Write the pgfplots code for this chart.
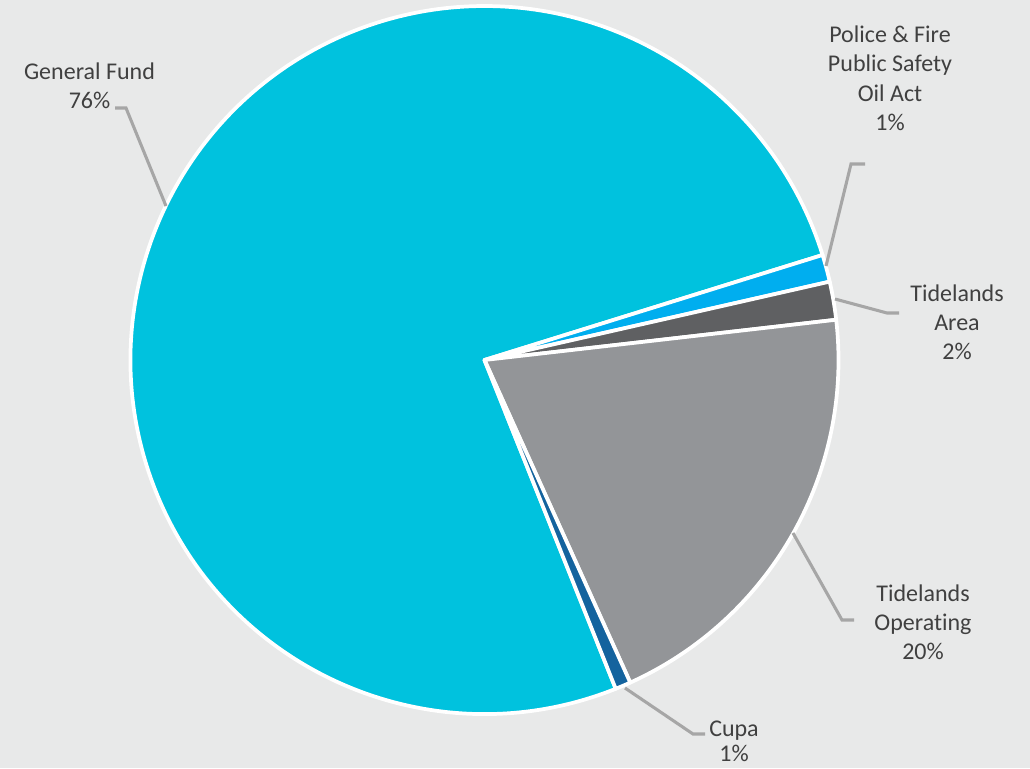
\documentclass[border=0pt]{standalone}
\usepackage{pgfplots}
\pgfplotsset{compat=1.18}
\usepackage{pgfplotstable}
\usepackage{fontspec}
\setmainfont{Carlito}[Ligatures={NoCommon}]
\definecolor{bg}{HTML}{E8E9E9}
\definecolor{cGF}{HTML}{00C2DE}
\definecolor{cPF}{HTML}{00AEEF}
\definecolor{cTA}{HTML}{5F6062}
\definecolor{cTO}{HTML}{939598}
\definecolor{cCU}{HTML}{14639E}
\definecolor{lead}{HTML}{A6A6A6}
\definecolor{txt}{HTML}{404040}

% slice shares in percent, clockwise from the start angle
\pgfplotstableread{
name value
GF 76.25
PF 1.24
TA 1.74
TO 20.06
CU 0.71
}\piedata

\begin{document}
\begin{tikzpicture}
\def\cx{484.5}
\def\cy{360}
\def\R{265.5pt}
\def\aS{-68.24}
\pgfplotstablegetelem{0}{value}\of\piedata \pgfmathsetmacro{\aA}{\aS-3.6*\pgfplotsretval}
\pgfplotstablegetelem{1}{value}\of\piedata \pgfmathsetmacro{\aB}{\aA-3.6*\pgfplotsretval}
\pgfplotstablegetelem{2}{value}\of\piedata \pgfmathsetmacro{\aC}{\aB-3.6*\pgfplotsretval}
\pgfplotstablegetelem{3}{value}\of\piedata \pgfmathsetmacro{\aD}{\aC-3.6*\pgfplotsretval}
\pgfplotstablegetelem{4}{value}\of\piedata \pgfmathsetmacro{\aE}{\aD-3.6*\pgfplotsretval}
\begin{axis}[
  x=0.75pt, y=0.75pt, y dir=reverse,
  xmin=0, xmax=1030, ymin=0, ymax=768,
  hide axis, scale only axis, clip=false,
]
\fill[bg] (axis cs:0,0) rectangle (axis cs:1030,768);
\tikzset{slice/.style={overlay, draw=white, line width=2.8pt, line join=round}}
\filldraw[slice, fill=cGF] (axis cs:\cx,\cy) -- ++(\aS:\R) arc[start angle=\aS, end angle=\aA, radius=\R] -- cycle;
\filldraw[slice, fill=cPF] (axis cs:\cx,\cy) -- ++(\aA:\R) arc[start angle=\aA, end angle=\aB, radius=\R] -- cycle;
\filldraw[slice, fill=cTA] (axis cs:\cx,\cy) -- ++(\aB:\R) arc[start angle=\aB, end angle=\aC, radius=\R] -- cycle;
\filldraw[slice, fill=cTO] (axis cs:\cx,\cy) -- ++(\aC:\R) arc[start angle=\aC, end angle=\aD, radius=\R] -- cycle;
\filldraw[slice, fill=cCU] (axis cs:\cx,\cy) -- ++(\aD:\R) arc[start angle=\aD, end angle=\aE, radius=\R] -- cycle;

\tikzset{leader/.style={overlay, draw=lead, line width=2.3pt}}
\draw[leader] (axis cs:115,108) -- (axis cs:126,108) -- (axis cs:166,206);
\draw[leader] (axis cs:865,164) -- (axis cs:851,164) -- (axis cs:826,266);
\draw[leader] (axis cs:835,299) -- (axis cs:887,313) -- (axis cs:899,313);
\draw[leader] (axis cs:793,533) -- (axis cs:842,620) -- (axis cs:854,620);
\draw[leader] (axis cs:625,688) -- (axis cs:693,734) -- (axis cs:705,734);

\tikzset{lbl/.style={overlay, anchor=base, inner sep=0pt, text=txt, font=\fontsize{18}{22}\selectfont}}
\node[lbl] at (axis cs:89.5,79.5) {General Fund};
\node[lbl] at (axis cs:89.5,108) {76\%};
\node[lbl] at (axis cs:890,42.5) {Police \& Fire};
\node[lbl] at (axis cs:890,71.5) {Public Safety};
\node[lbl] at (axis cs:890,101) {Oil Act};
\node[lbl] at (axis cs:890,130.5) {1\%};
\node[lbl] at (axis cs:957,301.5) {Tidelands};
\node[lbl] at (axis cs:957,330.5) {Area};
\node[lbl] at (axis cs:957,359.5) {2\%};
\node[lbl] at (axis cs:923,601) {Tidelands};
\node[lbl] at (axis cs:923,630) {Operating};
\node[lbl] at (axis cs:923,659.5) {20\%};
\node[lbl] at (axis cs:734,736) {Cupa};
\node[lbl] at (axis cs:734,761) {1\%};
\end{axis}
\end{tikzpicture}
\end{document}
